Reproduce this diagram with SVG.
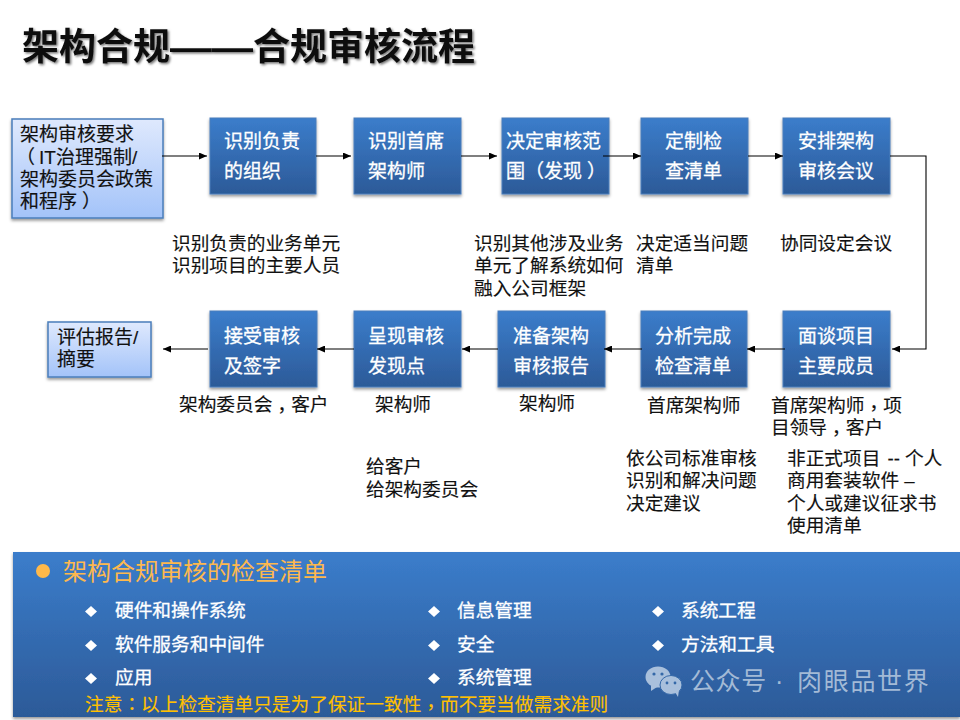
<svg xmlns="http://www.w3.org/2000/svg" width="960" height="720" viewBox="0 0 960 720">
<defs>
<linearGradient id="blue" x1="0" y1="0" x2="0" y2="1"><stop offset="0" stop-color="#3b7dcb"/><stop offset="1" stop-color="#2c5a98"/></linearGradient>
<linearGradient id="pale" x1="0" y1="0" x2="0" y2="1"><stop offset="0" stop-color="#dfe9fd"/><stop offset="1" stop-color="#a3c3f9"/></linearGradient>
<filter id="sh" x="-10%" y="-10%" width="120%" height="125%"><feDropShadow dx="0" dy="2" stdDeviation="1.5" flood-color="#000" flood-opacity="0.4"/></filter>
<filter id="ts" x="-5%" y="-20%" width="110%" height="140%"><feDropShadow dx="1.5" dy="1.5" stdDeviation="1" flood-color="#000" flood-opacity="0.55"/></filter>
<marker id="arr" markerWidth="8" markerHeight="7" refX="8" refY="3.500" orient="auto" markerUnits="userSpaceOnUse"><path d="M0 0L8 3.500L0 7z" fill="#000"/></marker>
</defs>
<style>
text{font-family:"Liberation Sans","Noto Sans CJK SC",sans-serif}
.n{fill:url(#blue);stroke:#4a7ebb;stroke-width:1;filter:url(#sh)}
.p{fill:url(#pale);stroke:#4a7ebb;stroke-width:1.5;filter:url(#sh)}
.nt{font-size:19px;fill:#fff;stroke:#fff;stroke-width:.3}
.pt{font-size:19px;fill:#111;stroke:#111;stroke-width:.15}
.t{font-size:18.7px;fill:#111;stroke:#111;stroke-width:.15}
.c{fill:none;stroke:#000;stroke-width:1.1;marker-end:url(#arr)}
.l{font-size:18.7px;fill:#fff;stroke:#fff;stroke-width:.3}
.d{fill:#fff}
.o{font-size:18.7px;fill:#ffc000;stroke:#ffc000;stroke-width:.15}
.w{font-size:25px;fill:#a3bad6}
.ti{font-size:37px;font-weight:700;fill:#111;filter:url(#ts)}
.tc{font-family:"Noto Sans CJK TC",sans-serif}
</style>
<rect width="960" height="720" fill="#fff"/>
<g id="title">
<text class="ti" x="22" y="60">架构合规</text>
<text class="ti" x="170" y="60" textLength="83" lengthAdjust="spacingAndGlyphs">——</text>
<text class="ti" x="253" y="60">合规审核流程</text>
</g>
<g id="n-req"><rect class="p" x="12" y="119" width="151" height="99"/><text class="pt" x="20" y="141">架构审核要求</text><text class="pt" x="20" y="164"><tspan dx="-4">（</tspan><tspan dx="4">IT治理强制/</tspan></text><text class="pt" x="20" y="186">架构委员会政策</text><text class="pt" x="20" y="208">和程序<tspan dx="5">）</tspan></text></g>
<g id="n1"><rect class="n" x="210" y="118" width="106" height="76"/><text class="nt" x="224" y="148">识别负责</text><text class="nt" x="224" y="178">的组织</text></g>
<g id="n2"><rect class="n" x="354" y="118" width="107" height="76"/><text class="nt" x="368" y="148">识别首席</text><text class="nt" x="368" y="178">架构师</text></g>
<g id="n3"><rect class="n" x="502" y="118" width="107" height="76"/><text class="nt" x="506" y="148">决定审核范</text><text class="nt" x="506" y="178">围<tspan class="tc">（</tspan>发现<tspan dx="5">）</tspan></text></g>
<g id="n4"><rect class="n" x="641" y="118" width="107" height="76"/><text class="nt" x="665" y="148">定制检</text><text class="nt" x="665" y="178">查清单</text></g>
<g id="n5"><rect class="n" x="783" y="118" width="107" height="76"/><text class="nt" x="798" y="148">安排架构</text><text class="nt" x="798" y="178">审核会议</text></g>
<g id="n6"><rect class="n" x="783" y="311" width="107" height="76"/><text class="nt" x="798" y="343">面谈项目</text><text class="nt" x="798" y="373">主要成员</text></g>
<g id="n7"><rect class="n" x="641" y="311" width="106" height="76"/><text class="nt" x="655" y="343">分析完成</text><text class="nt" x="655" y="373">检查清单</text></g>
<g id="n8"><rect class="n" x="498" y="311" width="107" height="76"/><text class="nt" x="513" y="343">准备架构</text><text class="nt" x="513" y="373">审核报告</text></g>
<g id="n9"><rect class="n" x="354" y="311" width="107" height="76"/><text class="nt" x="368" y="343">呈现审核</text><text class="nt" x="368" y="373">发现点</text></g>
<g id="n10"><rect class="n" x="210" y="311" width="107" height="76"/><text class="nt" x="224" y="343">接受审核</text><text class="nt" x="224" y="373">及签字</text></g>
<g id="n-out"><rect class="p" x="48" y="322" width="103" height="55"/><text class="pt" x="57" y="344">评估报告/</text><text class="pt" x="57" y="366">摘要</text></g>
<g id="connectors">
<path class="c" d="M162 156H207"/>
<path class="c" d="M316 156H351"/>
<path class="c" d="M461 156H497"/>
<path class="c" d="M603 156H641"/>
<path class="c" d="M748 156H783"/>
<path class="c" d="M890 156H926V349H892"/>
<path class="c" d="M785 349H747"/>
<path class="c" d="M642 349H604"/>
<path class="c" d="M498 349H462"/>
<path class="c" d="M354 349H317"/>
<path class="c" d="M208 349H163"/>
</g>
<g id="notes">
<text class="t" x="172" y="250">识别负责的业务单元</text><text class="t" x="172" y="272">识别项目的主要人员</text>
<text class="t" x="474" y="250">识别其他涉及业务</text><text class="t" x="474" y="272">单元了解系统如何</text><text class="t" x="474" y="295">融入公司框架</text>
<text class="t" x="636" y="250">决定适当问题</text><text class="t" x="636" y="272">清单</text>
<text class="t" x="780" y="250">协同设定会议</text>
<text class="t" x="179" y="411">架构委员会<tspan class="tc" dy="6">，</tspan><tspan dy="-6">客户</tspan></text>
<text class="t" x="375" y="411">架构师</text>
<text class="t" x="519" y="410">架构师</text>
<text class="t" x="647" y="412">首席架构师</text>
<text class="t" x="771" y="412">首席架构师<tspan class="tc" dy="3">，</tspan><tspan dy="-3">项</tspan></text><text class="t" x="771" y="434">目领导<tspan class="tc" dy="6">，</tspan><tspan dy="-6">客户</tspan></text>
<text class="t" x="366" y="473">给客户</text><text class="t" x="366" y="496">给架构委员会</text>
<text class="t" x="626" y="465">依公司标准审核</text><text class="t" x="626" y="487">识别和解决问题</text><text class="t" x="626" y="510">决定建议</text>
<text class="t" x="787" y="465">非正式项目<tspan dx="7">--</tspan><tspan dx="5">个人</tspan></text><text class="t" x="787" y="487">商用套装软件 –</text><text class="t" x="787" y="510">个人或建议征求书</text><text class="t" x="787" y="532">使用清单</text>
</g>
<g id="panel">
<rect x="13" y="552" width="947" height="165" fill="url(#blue)" filter="url(#sh)"/>
<circle cx="43" cy="571" r="7" fill="#ffb94a"/>
<text x="63" y="580" font-size="24" fill="#fdb84e">架构合规审核的检查清单</text>
<path class="d" d="M91 606l6 5.500l-6 5.500l-6-5.500z"/><text class="l" x="115" y="617">硬件和操作系统</text>
<path class="d" d="M91 640l6 5.500l-6 5.500l-6-5.500z"/><text class="l" x="115" y="651">软件服务和中间件</text>
<path class="d" d="M91 673l6 5.500l-6 5.500l-6-5.500z"/><text class="l" x="115" y="684">应用</text>
<path class="d" d="M434 606l6 5.500l-6 5.500l-6-5.500z"/><text class="l" x="457" y="617">信息管理</text>
<path class="d" d="M434 640l6 5.500l-6 5.500l-6-5.500z"/><text class="l" x="457" y="651">安全</text>
<path class="d" d="M434 673l6 5.500l-6 5.500l-6-5.500z"/><text class="l" x="457" y="684">系统管理</text>
<path class="d" d="M658 606l6 5.500l-6 5.500l-6-5.500z"/><text class="l" x="681" y="617">系统工程</text>
<path class="d" d="M658 640l6 5.500l-6 5.500l-6-5.500z"/><text class="l" x="681" y="651">方法和工具</text>
<text class="o" x="85" y="711">注意<tspan class="tc">：</tspan>以上检查清单只是为了保证一致性<tspan class="tc" dy="3">，</tspan><tspan dy="-3">而不要当做需求准则</tspan></text>
</g>
<g id="watermark">
<ellipse cx="658" cy="677" rx="12.500" ry="10.500" fill="#a9c0dc"/><path d="M651 685l0 6l6-4z" fill="#a9c0dc"/>
<ellipse cx="671" cy="685" rx="11" ry="9.500" fill="#a9c0dc" stroke="#3468a8" stroke-width="1"/><path d="M675 692l3 5l1-7z" fill="#a9c0dc"/>
<circle cx="654" cy="674" r="1.600" fill="#3468a8"/><circle cx="662" cy="674" r="1.600" fill="#3468a8"/>
<circle cx="667" cy="683" r="1.400" fill="#3468a8"/><circle cx="675" cy="683" r="1.400" fill="#3468a8"/>
<text class="w" x="690" y="690" letter-spacing="0.600">公众号</text>
<text class="w" x="775" y="690">·</text>
<text class="w" x="797" y="690" letter-spacing="1.700">肉眼品世界</text>
</g>
</svg>
